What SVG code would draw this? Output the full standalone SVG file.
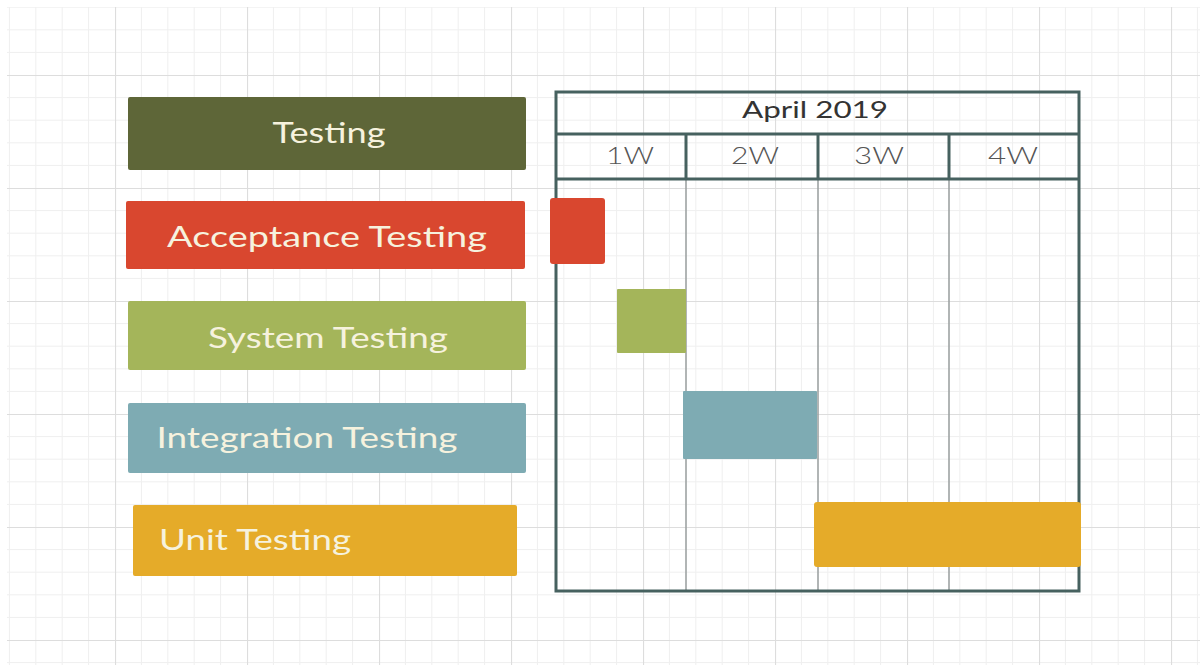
<svg xmlns="http://www.w3.org/2000/svg" width="1200" height="665" viewBox="0 0 1200 665">
  <defs>
    <pattern id="grid" x="115" y="75" width="132" height="113" patternUnits="userSpaceOnUse">
      <g stroke="#efefef" stroke-width="1">
        <line x1="26.4" y1="0" x2="26.4" y2="113"/>
        <line x1="52.8" y1="0" x2="52.8" y2="113"/>
        <line x1="79.2" y1="0" x2="79.2" y2="113"/>
        <line x1="105.6" y1="0" x2="105.6" y2="113"/>
        <line x1="0" y1="22.6" x2="132" y2="22.6"/>
        <line x1="0" y1="45.2" x2="132" y2="45.2"/>
        <line x1="0" y1="67.8" x2="132" y2="67.8"/>
        <line x1="0" y1="90.4" x2="132" y2="90.4"/>
      </g>
      <g stroke="#dddddd" stroke-width="1.2">
        <line x1="0.5" y1="0" x2="0.5" y2="113"/>
        <line x1="0" y1="0.5" x2="132" y2="0.5"/>
      </g>
    </pattern>
  </defs>
  <style>
    .lbl { font-family: Lato, "Open Sans", "Liberation Sans", sans-serif; font-size: 29px; fill: #f6f2de; text-anchor: middle; dominant-baseline: alphabetic; }
    .hdr { font-family: Lato, "Open Sans", "Liberation Sans", sans-serif; font-size: 24px; fill: #333333; text-anchor: middle; }
    .wk { font-family: Lato, "Open Sans", "Liberation Sans", sans-serif; font-size: 24px; font-weight: 300; fill: #555555; text-anchor: middle; }
    .frame { fill: none; stroke: #46615f; stroke-width: 3; }
    .div { stroke: #9ea3a3; stroke-width: 1.6; }
  </style>

  <rect x="0" y="0" width="1200" height="665" fill="#ffffff"/>
  <rect x="7" y="7" width="1193" height="658" fill="url(#grid)"/>

  <g id="label-testing">
    <rect x="128" y="97" width="398" height="73" rx="2" fill="#5e6638"/>
    <text class="lbl" x="329" y="143" textLength="113" lengthAdjust="spacingAndGlyphs">Testing</text>
  </g>
  <g id="label-acceptance">
    <rect x="126" y="201" width="399" height="68" rx="2" fill="#d9472f"/>
    <text class="lbl" x="327" y="247" textLength="320" lengthAdjust="spacingAndGlyphs">Acceptance Testing</text>
  </g>
  <g id="label-system">
    <rect x="128" y="301" width="398" height="69" rx="2" fill="#a4b55a"/>
    <text class="lbl" x="328" y="348" textLength="240" lengthAdjust="spacingAndGlyphs">System Testing</text>
  </g>
  <g id="label-integration">
    <rect x="128" y="403" width="398" height="70" rx="2" fill="#7eabb3"/>
    <text class="lbl" x="307" y="448" textLength="301" lengthAdjust="spacingAndGlyphs">Integration Testing</text>
  </g>
  <g id="label-unit">
    <rect x="133" y="505" width="384" height="71" rx="2" fill="#e5ab29"/>
    <text class="lbl" x="255" y="550" textLength="192" lengthAdjust="spacingAndGlyphs">Unit Testing</text>
  </g>

  <g id="chart">
    <line class="div" x1="686" y1="180" x2="686" y2="591"/>
    <line class="div" x1="818" y1="180" x2="818" y2="591"/>
    <line class="div" x1="949" y1="180" x2="949" y2="591"/>
    <rect class="frame" x="556" y="92" width="523" height="499"/>
    <line class="frame" x1="556" y1="134" x2="1079" y2="134"/>
    <line class="frame" x1="556" y1="179" x2="1079" y2="179"/>
    <line class="frame" x1="686" y1="134" x2="686" y2="179" stroke-width="2"/>
    <line class="frame" x1="818" y1="134" x2="818" y2="179" stroke-width="2"/>
    <line class="frame" x1="949" y1="134" x2="949" y2="179" stroke-width="2"/>
    <text class="hdr" x="815" y="118" textLength="146" lengthAdjust="spacingAndGlyphs">April 2019</text>
    <text class="wk" x="630" y="164" textLength="48" lengthAdjust="spacingAndGlyphs">1W</text>
    <text class="wk" x="755" y="164" textLength="48" lengthAdjust="spacingAndGlyphs">2W</text>
    <text class="wk" x="879" y="164" textLength="50" lengthAdjust="spacingAndGlyphs">3W</text>
    <text class="wk" x="1013" y="164" textLength="50" lengthAdjust="spacingAndGlyphs">4W</text>
  </g>

  <g id="bar-acceptance"><rect x="550" y="198" width="55" height="66" rx="3" fill="#d9472f"/></g>
  <g id="bar-system"><rect x="617" y="289" width="69" height="64" rx="1" fill="#a4b55a"/></g>
  <g id="bar-integration"><rect x="683" y="391" width="134" height="68" rx="1" fill="#7eabb3"/></g>
  <g id="bar-unit"><rect x="814" y="502" width="267" height="65" rx="3" fill="#e5ab29"/></g>
</svg>
